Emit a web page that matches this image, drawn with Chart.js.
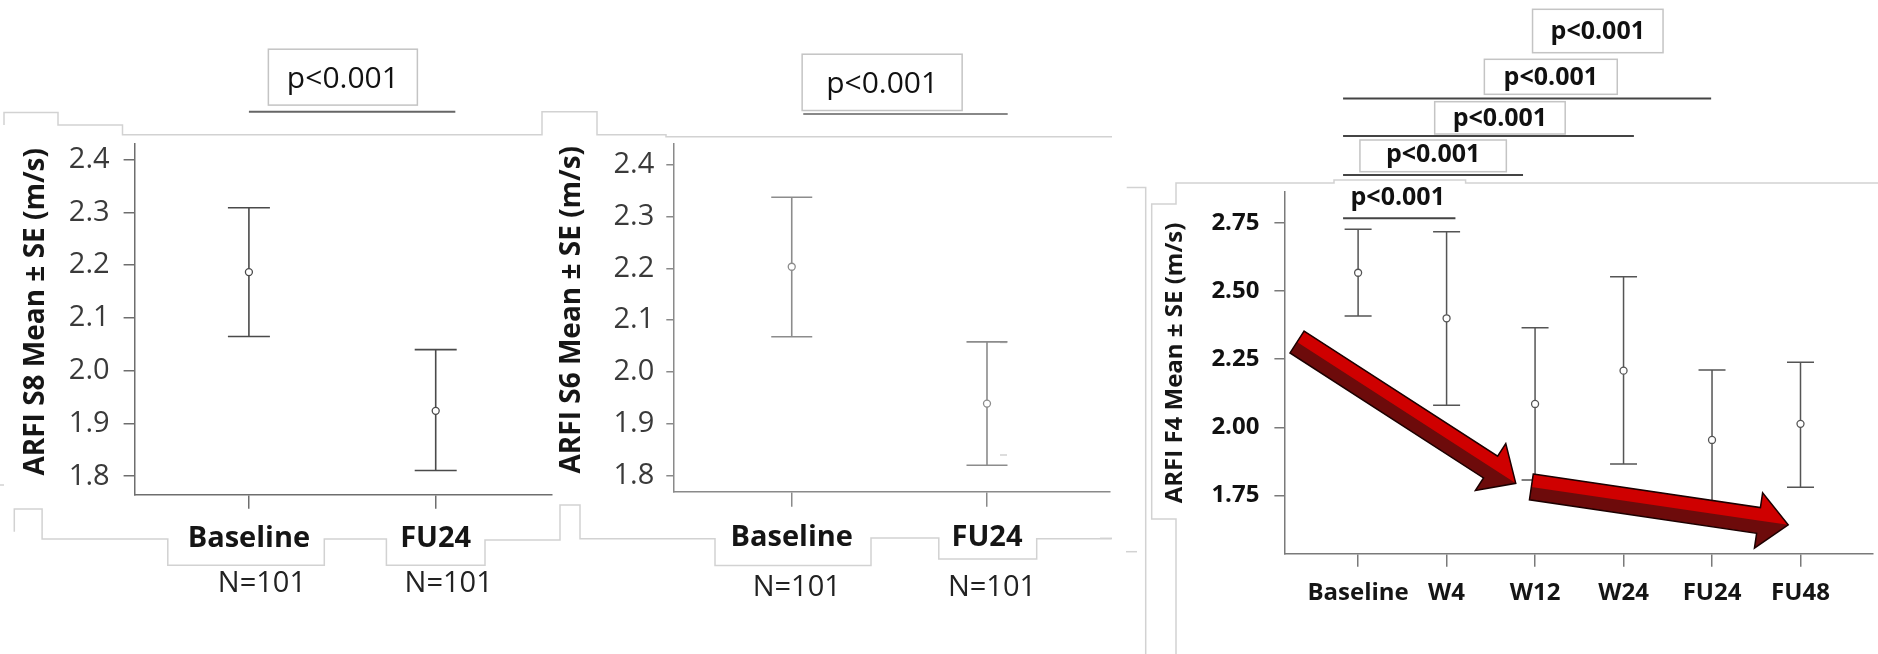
<!DOCTYPE html>
<html>
<head>
<meta charset="utf-8">
<title>ARFI mean ± SE</title>
<script src="https://cdn.jsdelivr.net/npm/chart.js@4.4.1/dist/chart.umd.min.js"></script>
<style>
  html, body { margin: 0; padding: 0; background: #fff; }
  .stage { position: relative; width: 1878px; height: 654px; overflow: hidden; background: #fff; }
  .stage canvas { position: absolute; top: 0; }
  #s8Chart { left: 0; }
  #s6Chart { left: 540px; }
  #f4Chart { left: 1120px; }
  .frames { position: absolute; left: 0; top: 0; }
  .frames polyline { fill: none; stroke: #d2d2d2; stroke-width: 1.5; }
</style>
</head>
<body>
<div class="stage">
  <!-- faint outlines of the pasted text boxes -->
  <svg class="frames" width="1878" height="654">
    <polyline points="4,125 4,112.6 58,112.6 58,125 122.5,125 122.5,134.7 542,134.7 542,111.8 597,111.8 597,134.7 666,134.7 666,136.8 1112,136.8" />
    <polyline points="14.3,531.8 14.3,508.9 42.1,508.9 42.1,538.9 167.8,538.9 167.8,565.2 324.3,565.2 324.3,538.9 386.4,538.9 386.4,565.2 485,565.2 485,540 560,540 560,505 580,505 580,538.8 715,538.8 715,565.5 871,565.5 871,538 938.8,538 938.8,559 1036.7,559 1036.7,538.8 1111.7,538.8" />
    <polyline points="0,485 4,485" />
    <polyline points="1000,114 1007,114" />
    <polyline points="1000,342.5 1007,342.5" />
    <polyline points="1000,455 1007,455" />
    <polyline points="1126.7,187.5 1145.7,187.5 1145.7,654" />
    <polyline points="1126,551.7 1137,551.7" />
    <polyline points="1100,538.3 1112,538.3" />
    <polyline points="1176,654 1176,519 1151.7,519 1151.7,204 1176,204 1176,183 1334,183 1334,180 1465.6,180 1465.6,183 1878,183" />
  </svg>
  <canvas id="s8Chart" width="560" height="654"></canvas>
  <canvas id="s6Chart" width="580" height="654"></canvas>
  <canvas id="f4Chart" width="758" height="654"></canvas>
</div>

<script>
// values
const pairCategories = ["Baseline", "FU24"];
const pairCounts = ["N=101", "N=101"];
const pairTicks = [1.8, 1.9, 2.0, 2.1, 2.2, 2.3, 2.4];

const s8Mean = [2.187, 1.924];
const s8Upper = [2.309, 2.040];
const s8Lower = [2.065, 1.811];

const s6Mean = [2.203, 1.939];
const s6Upper = [2.337, 2.058];
const s6Lower = [2.068, 1.820];

const f4Categories = ["Baseline", "W4", "W12", "W24", "FU24", "FU48"];
const f4Mean = [2.567, 2.400, 2.086, 2.208, 1.954, 2.013];
const f4Upper = [2.726, 2.717, 2.365, 2.552, 2.210, 2.239];
const f4Lower = [2.408, 2.081, 1.807, 1.866, 1.700, 1.781];
const f4Ticks = [1.75, 2.0, 2.25, 2.5, 2.75];

const pLabel = "p<0.001";

const FONT = "'Open Sans', 'DejaVu Sans', sans-serif";
Chart.defaults.font.family = FONT;

function meanPoints(means) {
  return means.map((m, i) => ({ x: i, y: m }));
}

function errorBarPlugin(upper, lower, style) {
  return {
    id: "errorBars",
    beforeDatasetsDraw(chart) {
      const { ctx, scales: { x, y } } = chart;
      ctx.save();
      ctx.strokeStyle = style.color;
      ctx.lineWidth = style.width;
      upper.forEach((hi, i) => {
        const px = x.getPixelForValue(i);
        const top = y.getPixelForValue(hi);
        const bottom = y.getPixelForValue(lower[i]);
        ctx.beginPath();
        ctx.moveTo(px, top);
        ctx.lineTo(px, bottom);
        ctx.moveTo(px - style.cap, top);
        ctx.lineTo(px + style.cap, top);
        ctx.moveTo(px - style.cap, bottom);
        ctx.lineTo(px + style.cap, bottom);
        ctx.stroke();
      });
      ctx.restore();
    },
  };
}

// rotated y title, placed where the pasted label box sits
function yTitlePlugin(text, style) {
  return {
    id: "yTitle",
    afterDraw(chart) {
      const { ctx } = chart;
      ctx.save();
      ctx.translate(style.x, style.y);
      ctx.rotate(-Math.PI / 2);
      ctx.font = `bold ${style.size}px ${FONT}`;
      ctx.fillStyle = "#161616";
      ctx.textAlign = "center";
      ctx.textBaseline = "middle";
      ctx.fillText(text, 0, 0);
      ctx.restore();
    },
  };
}

function countPlugin(labels, style) {
  return {
    id: "counts",
    afterDraw(chart) {
      const { ctx, chartArea, scales: { x } } = chart;
      ctx.save();
      ctx.font = `${style.size}px ${FONT}`;
      ctx.fillStyle = "#222";
      ctx.textAlign = "center";
      ctx.textBaseline = "middle";
      labels.forEach((t, i) => {
        ctx.fillText(t, x.getPixelForValue(i) + style.dx, chartArea.bottom + style.dy);
      });
      ctx.restore();
    },
  };
}

// significance brackets: horizontal extent on the x scale, heights in canvas pixels
function pValuePlugin(brackets, style) {
  return {
    id: "pValues",
    afterDraw(chart) {
      const { ctx, scales: { x } } = chart;
      ctx.save();
      brackets.forEach((b) => {
        if (b.lineTo !== undefined) {
          ctx.strokeStyle = style.lineColor;
          ctx.lineWidth = 2;
          ctx.beginPath();
          ctx.moveTo(x.getPixelForValue(b.lineFrom), b.lineY);
          ctx.lineTo(x.getPixelForValue(b.lineTo), b.lineY);
          ctx.stroke();
        }
        const cx = x.getPixelForValue(b.at);
        if (b.boxW) {
          ctx.fillStyle = "#fff";
          ctx.fillRect(cx - b.boxW / 2, b.boxTop, b.boxW, b.boxBottom - b.boxTop);
          ctx.strokeStyle = "#c4c4c4";
          ctx.lineWidth = 1.5;
          ctx.strokeRect(cx - b.boxW / 2, b.boxTop, b.boxW, b.boxBottom - b.boxTop);
        }
        ctx.font = `${style.weight} ${style.size}px ${FONT}`;
        ctx.fillStyle = "#111";
        ctx.textAlign = "center";
        ctx.textBaseline = "middle";
        ctx.fillText(pLabel, cx, b.textY);
      });
      ctx.restore();
    },
  };
}

// the two red trend arrows over the F4 panel
function arrowPlugin(arrows) {
  return {
    id: "trendArrows",
    afterDatasetsDraw(chart) {
      const { ctx, scales: { x, y } } = chart;
      ctx.save();
      arrows.forEach((a) => {
        const x0 = x.getPixelForValue(a.from[0]);
        const y0 = y.getPixelForValue(a.from[1]);
        const x1 = x.getPixelForValue(a.to[0]);
        const y1 = y.getPixelForValue(a.to[1]);
        const len = Math.hypot(x1 - x0, y1 - y0);
        const dx = (x1 - x0) / len;
        const dy = (y1 - y0) / len;
        const nx = dy;
        const ny = -dx;
        const sw = 13;
        const hw = 28;
        const hl = 30;
        const bx = x1 - dx * hl;
        const by = y1 - dy * hl;
        const P = (px, py, k) => [px + nx * k, py + ny * k];
        const outline = [
          P(x0, y0, sw), P(bx, by, sw), P(bx, by, hw), [x1, y1],
          P(bx, by, -hw), P(bx, by, -sw), P(x0, y0, -sw),
        ];
        const upperFace = [
          P(x0, y0, sw), P(bx, by, sw), P(bx, by, hw), [x1, y1], [bx, by], [x0, y0],
        ];
        const path = (pts) => {
          ctx.beginPath();
          pts.forEach((p, i) => (i ? ctx.lineTo(p[0], p[1]) : ctx.moveTo(p[0], p[1])));
          ctx.closePath();
        };
        path(outline);
        ctx.fillStyle = "#6d0b0b";
        ctx.fill();
        path(upperFace);
        ctx.fillStyle = "#cf0000";
        ctx.fill();
        path(outline);
        ctx.strokeStyle = "#1c0000";
        ctx.lineWidth = 1.5;
        ctx.lineJoin = "miter";
        ctx.stroke();
      });
      ctx.restore();
    },
  };
}

function buildPanel(canvasId, panel) {
  const ctx = document.getElementById(canvasId).getContext("2d");
  return new Chart(ctx, {
    type: "scatter",
    data: {
      datasets: [
        {
          data: meanPoints(panel.means),
          pointRadius: 3.5,
          pointBackgroundColor: "#fff",
          pointBorderColor: panel.barColor,
          pointBorderWidth: 1.3,
        },
      ],
    },
    options: {
      responsive: false,
      animation: false,
      events: [],
      layout: { padding: panel.padding },
      plugins: { legend: { display: false }, tooltip: { enabled: false } },
      scales: {
        x: {
          type: "linear",
          min: panel.xMin,
          max: panel.xMax,
          afterBuildTicks: (s) => {
            s.ticks = panel.categories.map((_, i) => ({ value: i }));
          },
          afterFit: (s) => {
            s.height = panel.xAxisHeight;
          },
          ticks: {
            callback: (v) => panel.categories[v],
            font: { size: panel.xFont, weight: "bold" },
            color: "#151515",
            padding: panel.xPad,
            maxRotation: 0,
            autoSkip: false,
          },
          grid: { drawOnChartArea: false, tickLength: panel.xTick, color: panel.axisColor, lineWidth: 1.5 },
          border: { color: panel.axisColor, width: 1.5 },
        },
        y: {
          min: panel.yMin,
          max: panel.yMax,
          afterBuildTicks: (s) => {
            s.ticks = panel.yTicks.map((v) => ({ value: v }));
          },
          afterFit: (s) => {
            s.width = panel.yAxisWidth;
          },
          ticks: {
            callback: (v) => v.toFixed(panel.decimals),
            font: { size: panel.yFont, weight: panel.yWeight },
            color: panel.yColor,
            padding: panel.yPad,
          },
          grid: { drawOnChartArea: false, tickLength: panel.yTick, color: panel.axisColor, lineWidth: 1.5 },
          border: { color: panel.axisColor, width: 1.5 },
        },
      },
    },
    plugins: panel.plugins,
  });
}

buildPanel("s8Chart", {
  categories: pairCategories,
  means: s8Mean,
  yTicks: pairTicks,
  decimals: 1,
  padding: { top: 143.9, right: 8.3, bottom: 0, left: 0 },
  xAxisHeight: 159.3,
  yAxisWidth: 134.6,
  xMin: -0.612,
  xMax: 1.621,
  yMin: 1.765,
  yMax: 2.43,
  xFont: 29,
  xPad: 13,
  xTick: 14,
  yFont: 29,
  yWeight: "normal",
  yColor: "#3a3a3a",
  yPad: 14,
  yTick: 11,
  axisColor: "#6e6e6e",
  barColor: "#4a4a4a",
  plugins: [
    errorBarPlugin(s8Upper, s8Lower, { color: "#4a4a4a", width: 1.6, cap: 21 }),
    yTitlePlugin("ARFI S8 Mean ± SE (m/s)", { x: 35.7, y: 311.8, size: 28 }),
    countPlugin(pairCounts, { size: 29, dx: 13, dy: 89.3 }),
    pValuePlugin(
      [{ lineFrom: 0, lineTo: 1.105, lineY: 111.8, at: 0.503, boxW: 149, boxTop: 49.2, boxBottom: 105.1, textY: 79.2 }],
      { size: 30, weight: "normal", lineColor: "#666" },
    ),
  ],
});

buildPanel("s6Chart", {
  categories: pairCategories,
  means: s6Mean,
  yTicks: pairTicks,
  decimals: 1,
  padding: { top: 143.9, right: 9.8, bottom: 0, left: 0 },
  xAxisHeight: 161.8,
  yAxisWidth: 134,
  xMin: -0.603,
  xMax: 1.631,
  yMin: 1.768,
  yMax: 2.44,
  xFont: 29,
  xPad: 13.8,
  xTick: 14.6,
  yFont: 29,
  yWeight: "normal",
  yColor: "#3a3a3a",
  yPad: 12,
  yTick: 7.7,
  axisColor: "#8a8a8a",
  barColor: "#8c8c8c",
  plugins: [
    errorBarPlugin(s6Upper, s6Lower, { color: "#8c8c8c", width: 1.6, cap: 20.5 }),
    yTitlePlugin("ARFI S6 Mean ± SE (m/s)", { x: 32.5, y: 309.7, size: 28 }),
    countPlugin(pairCounts, { size: 29, dx: 5, dy: 95.8 }),
    pValuePlugin(
      [{ lineFrom: 0.059, lineTo: 1.106, lineY: 113.9, at: 0.463, boxW: 160, boxTop: 54.2, boxBottom: 110.5, textY: 84.7 }],
      { size: 30, weight: "normal", lineColor: "#888" },
    ),
  ],
});

buildPanel("f4Chart", {
  categories: f4Categories,
  means: f4Mean,
  yTicks: f4Ticks,
  decimals: 2,
  padding: { top: 191.7, right: 4, bottom: 0, left: 0 },
  xAxisHeight: 100,
  yAxisWidth: 164.4,
  xMin: -0.833,
  xMax: 5.816,
  yMin: 1.536,
  yMax: 2.864,
  xFont: 24,
  xPad: 12,
  xTick: 12.7,
  yFont: 24,
  yWeight: "bold",
  yColor: "#111",
  yPad: 15,
  yTick: 10,
  axisColor: "#7a7a7a",
  barColor: "#555",
  plugins: [
    errorBarPlugin(f4Upper, f4Lower, { color: "#555", width: 1.5, cap: 13.5 }),
    arrowPlugin([
      { from: [-0.69, 2.313], to: [1.782, 1.795] },
      { from: [1.958, 1.782], to: [4.861, 1.643] },
    ]),
    yTitlePlugin("ARFI F4 Mean ± SE (m/s)", { x: 55.6, y: 363, size: 24 }),
    pValuePlugin(
      [
        { lineFrom: -0.17, lineTo: 1.1, lineY: 218.3, at: 0.448, textY: 198.3 },
        { lineFrom: -0.17, lineTo: 1.864, lineY: 175, at: 0.848, boxW: 146.4, boxTop: 140, boxBottom: 171.7, textY: 155 },
        { lineFrom: -0.17, lineTo: 3.117, lineY: 136, at: 1.603, boxW: 130.5, boxTop: 101.7, boxBottom: 134, textY: 119 },
        { lineFrom: -0.17, lineTo: 3.99, lineY: 98.5, at: 2.178, boxW: 132.9, boxTop: 59.3, boxBottom: 94.3, textY: 78.3 },
        { at: 2.709, boxW: 130.5, boxTop: 9.3, boxBottom: 52.7, textY: 32.3 },
      ],
      { size: 25, weight: "bold", lineColor: "#444" },
    ),
  ],
});
</script>
</body>
</html>
